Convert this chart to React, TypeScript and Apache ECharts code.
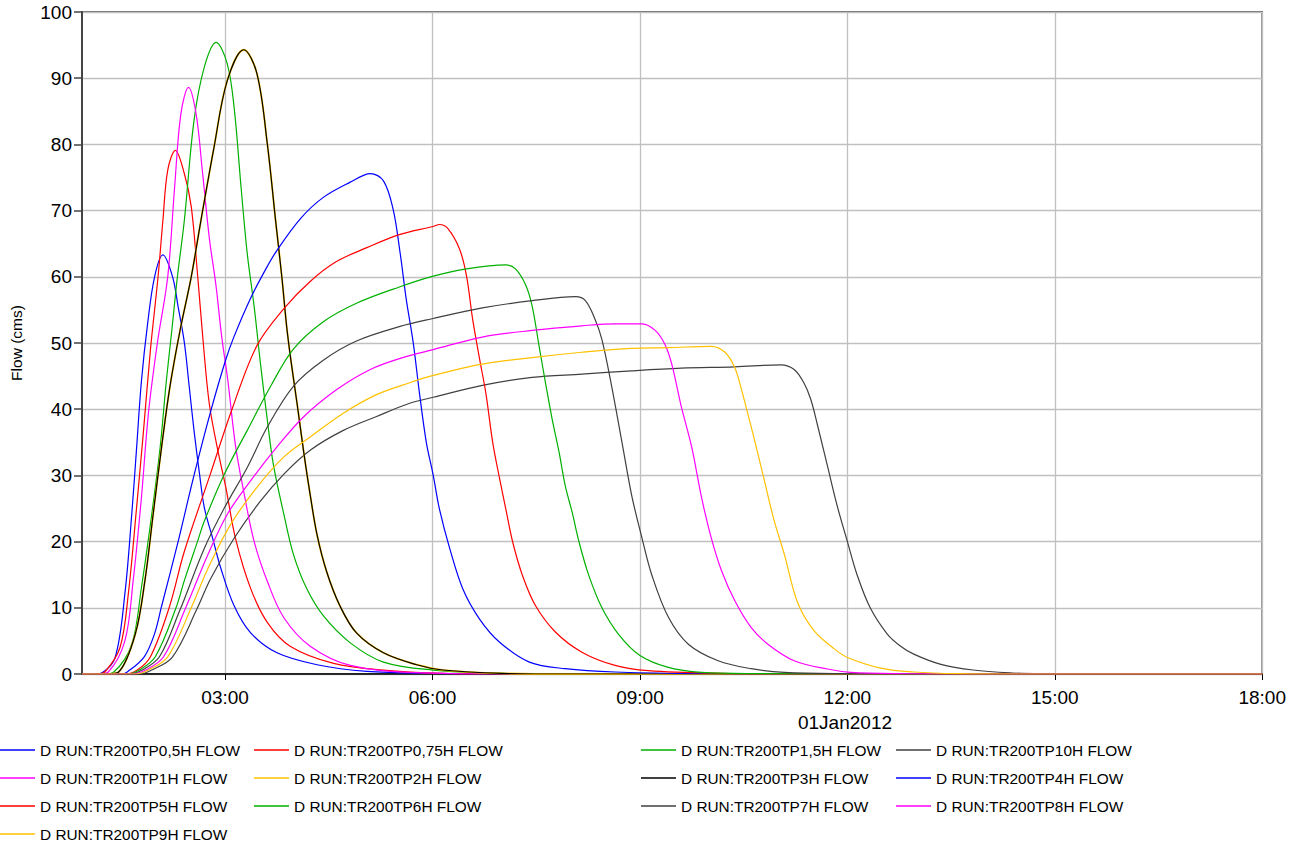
import React, { useEffect, useRef } from "react";
import * as echarts from "echarts";

const FONT = '"Liberation Sans", Arial, Helvetica, sans-serif';

// time in hours on 01Jan2012, flow in cms
const tp05h: [number, number][] = [
  [0.93, 0], [1.1, 0], [1.22, 0.2], [1.41, 2.5], [1.55, 12.1], [1.65, 24.2], [1.72, 34.2], [1.79, 44.3],
  [1.88, 53], [1.98, 60], [2.1, 63.3], [2.24, 60], [2.32, 55.5], [2.41, 50.1], [2.48, 43.5], [2.55, 36.8],
  [2.63, 30.2], [2.7, 25.1], [2.82, 20.5], [2.94, 15.9], [3.13, 10.3], [3.37, 6.2], [3.75, 3.2],
  [4.33, 1.4], [5.05, 0.4], [6.0, 0.1], [7.0, 0], [18, 0],
];
const tp075h: [number, number][] = [
  [0.93, 0], [1.15, 0], [1.26, 0.3], [1.48, 4.0], [1.6, 12.1], [1.72, 25.2], [1.82, 36.8], [1.92, 49],
  [2.03, 60], [2.1, 68.5], [2.17, 76.1], [2.28, 79.1], [2.41, 75.6], [2.51, 70.6], [2.6, 60.5],
  [2.68, 50.5], [2.77, 40.9], [2.89, 34.0], [3.01, 28.2], [3.15, 20.5], [3.37, 12.9], [3.61, 7.8],
  [3.94, 4.2], [4.57, 1.6], [5.29, 0.6], [6.15, 0.1], [7.0, 0], [18, 0],
];
const tp1h: [number, number][] = [
  [0.93, 0], [1.18, 0], [1.31, 0.3], [1.55, 5.0], [1.67, 14.1], [1.79, 26.7], [1.89, 39.3], [2.02, 50],
  [2.17, 60], [2.27, 73.6], [2.36, 84.6], [2.47, 88.6], [2.58, 84.6], [2.67, 76.1], [2.77, 66],
  [2.87, 58.5], [2.95, 51], [3.04, 44.3], [3.15, 34.5], [3.27, 27.5], [3.42, 20], [3.61, 14],
  [3.85, 8.5], [4.23, 4.2], [4.81, 1.3], [5.77, 0.2], [7.0, 0], [18, 0],
];
const tp15h: [number, number][] = [
  [0.93, 0], [1.25, 0], [1.39, 0.3], [1.65, 4.5], [1.79, 13.1], [1.94, 24.2], [2.06, 34.2], [2.15, 44.3],
  [2.23, 52], [2.31, 60], [2.41, 68.5], [2.55, 83.6], [2.7, 91.7], [2.87, 95.4], [3.03, 92.2],
  [3.13, 85.6], [3.23, 73.6], [3.32, 63.5], [3.42, 55.5], [3.51, 47], [3.61, 38.4], [3.7, 31.5],
  [3.85, 24.1], [3.99, 18], [4.18, 12.9], [4.42, 8.8], [4.81, 4.7], [5.29, 1.8], [6.01, 0.6],
  [7.0, 0.1], [8.0, 0], [18, 0],
];
const tp3h: [number, number][] = [
  [0.93, 0], [1.3, 0], [1.46, 0.3], [1.7, 6.0], [1.84, 14.1], [1.96, 24.2], [2.08, 34.2], [2.2, 43.3],
  [2.35, 52], [2.51, 60], [2.65, 68.5], [2.84, 79.6], [3.03, 89.6], [3.27, 94.3], [3.46, 90.7],
  [3.61, 80.1], [3.73, 68.5], [3.82, 60], [3.89, 52.5], [3.95, 47.5], [4.04, 40.9], [4.14, 33.3],
  [4.23, 27.1], [4.33, 21], [4.47, 15.4], [4.66, 10.3], [4.9, 6.2], [5.29, 3.2], [5.77, 1.4],
  [6.15, 0.6], [7.0, 0.1], [8.0, 0], [18, 0],
];
// TP2H lies exactly under TP3H
const tp2h: [number, number][] = tp3h.map((p) => [p[0], p[1]] as [number, number]);
const tp4h: [number, number][] = [
  [0.93, 0], [1.5, 0], [1.59, 0.35], [1.83, 2.6], [1.98, 6.1], [2.08, 10.2], [2.32, 20], [2.55, 30],
  [2.8, 40], [3.01, 47.5], [3.13, 51], [3.37, 56.8], [3.59, 61.2], [3.75, 64], [4.09, 68.8], [4.42, 72],
  [4.81, 74.3], [5.1, 75.6], [5.29, 74.5], [5.43, 70.2], [5.53, 63.7], [5.62, 56.6], [5.72, 50.1],
  [5.81, 42.5], [5.91, 35], [6.01, 30], [6.1, 24.9], [6.25, 18.9], [6.44, 12.8], [6.68, 8.3],
  [6.97, 4.8], [7.4, 1.8], [7.92, 0.8], [8.64, 0.3], [9.89, 0.05], [11, 0], [18, 0],
];
const tp5h: [number, number][] = [
  [0.93, 0], [1.55, 0], [1.73, 0.6], [1.92, 2.6], [2.19, 10], [2.41, 18.5], [2.78, 30], [3.1, 40],
  [3.46, 49.6], [3.85, 55.2], [4.23, 59.3], [4.61, 62.3], [5.05, 64.4], [5.53, 66.4], [6.01, 67.6],
  [6.1, 67.9], [6.22, 67.3], [6.39, 64.2], [6.49, 60.2], [6.58, 53.6], [6.68, 47.6], [6.77, 42.5],
  [6.87, 35], [6.97, 29.5], [7.06, 24.9], [7.16, 19.9], [7.3, 14.9], [7.49, 10.3], [7.78, 6.3],
  [8.16, 3.3], [8.64, 1.3], [9.12, 0.5], [10.18, 0.1], [11.5, 0], [18, 0],
];
const tp6h: [number, number][] = [
  [0.93, 0], [1.58, 0], [1.76, 0.6], [1.99, 2.6], [2.29, 10], [2.41, 14.1], [2.6, 20], [2.7, 23.1],
  [2.99, 30.2], [3.32, 36.8], [3.66, 43.5], [3.99, 49.1], [4.42, 53.2], [4.9, 56], [5.53, 58.5],
  [6.01, 60.1], [6.49, 61.2], [7.06, 61.8], [7.2, 61.2], [7.35, 58.7], [7.44, 55.6], [7.54, 49.6],
  [7.64, 43.6], [7.73, 38.5], [7.83, 33.5], [7.92, 28.4], [8.02, 24.4], [8.12, 19.9], [8.26, 14.9],
  [8.45, 10], [8.69, 6.0], [9.0, 2.8], [9.41, 1.0], [9.89, 0.25], [10.75, 0.05], [12, 0], [18, 0],
];
const tp7h: [number, number][] = [
  [0.93, 0], [1.62, 0], [1.8, 0.6], [2.05, 2.6], [2.36, 10], [2.41, 11.3], [2.7, 19], [2.99, 25.1],
  [3.32, 31.2], [3.61, 37.3], [3.99, 43.5], [4.42, 47.4], [4.9, 50.3], [5.53, 52.5], [6.01, 53.7],
  [6.72, 55.3], [7.44, 56.4], [8.07, 57], [8.21, 56.4], [8.35, 53.6], [8.45, 50.5],
  [8.59, 43.5], [8.74, 35], [8.88, 27], [9.03, 20.5], [9.17, 15], [9.41, 8.6], [9.7, 4.5],
  [10.13, 2.0], [10.61, 0.8], [11.09, 0.25], [12.05, 0.05], [13, 0], [18, 0],
];
const tp8h: [number, number][] = [
  [0.93, 0], [1.66, 0], [1.85, 0.6], [2.11, 2.6], [2.43, 10], [2.75, 18], [3.03, 24.1], [3.37, 29.2],
  [3.75, 34.3], [4.14, 38.9], [4.62, 43], [5.1, 46], [5.57, 47.8], [6.01, 49], [6.72, 50.9],
  [7.44, 51.9], [8.16, 52.6], [8.64, 52.9], [9.03, 52.9], [9.22, 51.9], [9.36, 49.8], [9.46, 46.8],
  [9.6, 40.3], [9.75, 34.2], [9.89, 26.7], [10.03, 20.6], [10.18, 15.6], [10.37, 11.1], [10.61, 7.0],
  [10.85, 4.5], [11.23, 2.0], [11.71, 0.75], [12.05, 0.25], [12.77, 0.05], [14, 0], [18, 0],
];
const tp9h: [number, number][] = [
  [0.93, 0], [1.71, 0], [1.89, 0.6], [2.17, 2.6], [2.51, 10], [2.75, 15.9], [3.08, 22.6], [3.46, 28.2],
  [3.85, 32.8], [4.23, 35.8], [4.71, 39.4], [5.19, 42.2], [5.67, 44], [6.01, 45.1], [6.72, 46.8],
  [7.44, 47.8], [8.16, 48.6], [8.88, 49.2], [9.41, 49.3], [10.03, 49.5], [10.23, 48.6], [10.37, 46.3],
  [10.46, 43.3], [10.56, 39.3], [10.66, 35.2], [10.8, 29.2], [10.94, 23.2], [11.09, 18], [11.28, 10.8],
  [11.52, 6.5], [11.81, 3.8], [12.0, 2.5], [12.48, 0.9], [12.96, 0.3], [13.6, 0.05], [14.5, 0], [18, 0],
];
const tp10h: [number, number][] = [
  [0.93, 0], [1.76, 0], [1.94, 0.6], [2.24, 2.6], [2.6, 10], [2.79, 14.4], [3.13, 20.5], [3.51, 26.1],
  [3.85, 30.2], [4.23, 33.8], [4.71, 36.8], [5.19, 38.9], [5.67, 40.9], [6.01, 41.8], [6.72, 43.6],
  [7.44, 44.8], [8.16, 45.3], [8.88, 45.8], [9.6, 46.2], [10.37, 46.4], [11.04, 46.7], [11.23, 46],
  [11.37, 44], [11.47, 41.5], [11.57, 37.5], [11.71, 31.5], [11.85, 25.5], [12.0, 20], [12.14, 15],
  [12.33, 10], [12.58, 6], [12.77, 4.2], [12.96, 3.0], [13.34, 1.5], [13.82, 0.6], [14.39, 0.15],
  [14.82, 0.05],
];

const seriesNames = [
  "D RUN:TR200TP0,5H FLOW",
  "D RUN:TR200TP0,75H FLOW",
  "D RUN:TR200TP1,5H FLOW",
  "D RUN:TR200TP10H FLOW",
  "D RUN:TR200TP1H FLOW",
  "D RUN:TR200TP2H FLOW",
  "D RUN:TR200TP3H FLOW",
  "D RUN:TR200TP4H FLOW",
  "D RUN:TR200TP5H FLOW",
  "D RUN:TR200TP6H FLOW",
  "D RUN:TR200TP7H FLOW",
  "D RUN:TR200TP8H FLOW",
  "D RUN:TR200TP9H FLOW",
];
const seriesData = [tp05h, tp075h, tp15h, tp10h, tp1h, tp2h, tp3h, tp4h, tp5h, tp6h, tp7h, tp8h, tp9h];
const seriesColors = [
  "#0000ff", "#ff0000", "#00b000", "#404040", "#ff00ff", "#ffc000", "#000000",
  "#0000ff", "#ff0000", "#00b000", "#404040", "#ff00ff", "#ffc000",
];

const xTicks = [3, 6, 9, 12, 15, 18];
const dateLabel = "01Jan2012";

const legendColumns = [
  { left: 0, names: [seriesNames[0], seriesNames[4], seriesNames[8], seriesNames[12]] },
  { left: 254, names: [seriesNames[1], seriesNames[5], seriesNames[9]] },
  { left: 641, names: [seriesNames[2], seriesNames[6], seriesNames[10]] },
  { left: 896, names: [seriesNames[3], seriesNames[7], seriesNames[11]] },
];

export default function App() {
  const ref = useRef<HTMLDivElement>(null);
  useEffect(() => {
    if (!ref.current) return;
    const chart = echarts.init(ref.current, undefined, { renderer: "svg" });
    const option: any = {
      animation: false,
      backgroundColor: "#ffffff",
      textStyle: { fontFamily: FONT },
      grid: {
        left: 76, top: 12, right: 25, bottom: 176,
        show: true, borderColor: "#3a3a3a", borderWidth: 1.5, backgroundColor: "transparent",
      },
      xAxis: {
        type: "value",
        min: 0.93,
        max: 18,
        axisLine: { show: true, onZero: false, lineStyle: { color: "#000", width: 1.5 } },
        axisTick: { show: true, customValues: xTicks, length: 6, lineStyle: { color: "#000", width: 1 } },
        axisLabel: {
          customValues: xTicks,
          margin: 14,
          fontSize: 19,
          color: "#000",
          fontFamily: FONT,
          formatter: (v: number) => String(Math.round(v)).padStart(2, "0") + ":00",
        },
        splitLine: { show: true, lineStyle: { color: "#c0c0c0", width: 1.3 } },
      },
      yAxis: {
        type: "value",
        min: 0,
        max: 100,
        interval: 10,
        name: "Flow (cms)",
        nameLocation: "middle",
        nameGap: 58,
        nameTextStyle: { fontSize: 15.5, color: "#000", fontFamily: FONT },
        axisLine: { show: true, lineStyle: { color: "#444", width: 2 } },
        axisTick: { show: true, length: 8, lineStyle: { color: "#444", width: 1.5 } },
        axisLabel: { margin: 10, fontSize: 19, color: "#000", fontFamily: FONT },
        splitLine: { show: true, lineStyle: { color: "#c0c0c0", width: 1.3 } },
      },
      legend: legendColumns.map((c) => ({
        orient: "vertical",
        left: c.left,
        top: 736,
        padding: 0,
        itemGap: 0,
        itemWidth: 35,
        itemHeight: 1.3,
        icon: "rect",
        selectedMode: false,
        data: c.names,
        textStyle: { fontSize: 15.4, color: "#000", fontFamily: FONT, lineHeight: 28 },
      })),
      graphic: [
        {
          type: "text",
          x: 845,
          y: 722,
          style: {
            text: dateLabel,
            fontSize: 19,
            fontFamily: FONT,
            fill: "#000",
            align: "center",
            verticalAlign: "middle",
            textAlign: "center",
            textVerticalAlign: "middle",
          },
        },
      ],
      series: seriesNames.map((name, i) => ({
        name,
        type: "line",
        data: seriesData[i],
        showSymbol: false,
        symbol: "none",
        smooth: 0.35,
        color: seriesColors[i],
        lineStyle: { color: seriesColors[i], width: name.includes("TP2H") ? 1.8 : 1.2 },
        emphasis: { disabled: true },
        silent: true,
      })),
    };
    chart.setOption(option);
    return () => chart.dispose();
  }, []);
  return (
    <div
      ref={ref}
      style={{ position: "absolute", left: 0, top: 0, width: 1289, height: 850, background: "#fff" }}
    />
  );
}
